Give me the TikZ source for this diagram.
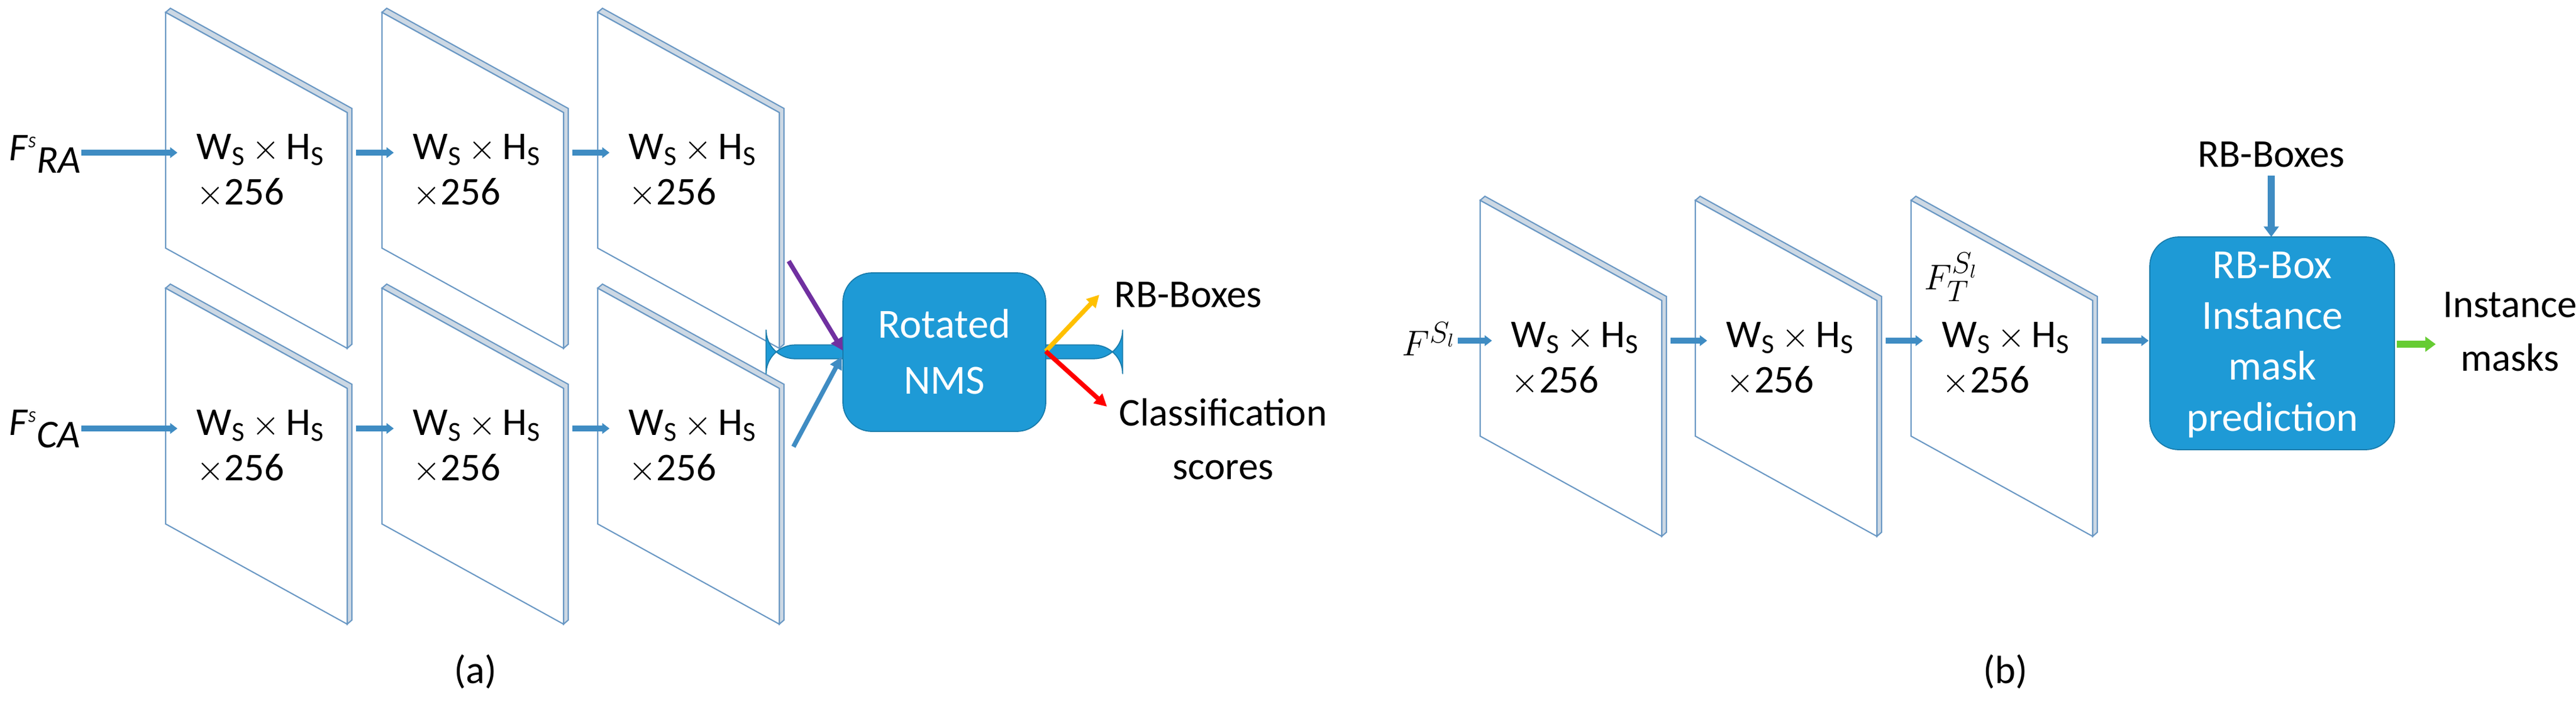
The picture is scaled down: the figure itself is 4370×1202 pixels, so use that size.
\documentclass[tikz,border=0pt]{standalone}
\usepackage{fontspec}
\setmainfont{Carlito}
\usetikzlibrary{arrows.meta}
\definecolor{arr}{HTML}{3F8CC3}
\definecolor{edge}{HTML}{6A98C4}
\definecolor{side}{HTML}{CCD8E4}
\definecolor{boxc}{HTML}{1E9AD6}
\definecolor{purp}{HTML}{7030A0}
\definecolor{yel}{HTML}{FFC000}
\definecolor{grn}{HTML}{66CC33}
\newcommand{\WH}{W\textsubscript{S}\,$\times$\,H\textsubscript{S}\\[-2pt]$\times$256}
\newcommand{\myplate}[3]{%
  \fill[side,draw=edge,line width=0.6pt] (#2,#3)--(#2+8,#3-7)--(#2+316,#3+163)--(#2+316,#3+563)--(#2+308,#3+570)--(#2+308,#3+170)--cycle;
  \draw[edge,line width=0.6pt,fill=white] (#2,#3)--(#2+308,#3+170)--(#2+308,#3+570)--(#2,#3+400)--cycle;
  \coordinate (#1in) at (#2+20,#3+238);
  \coordinate (#1out) at (#2+323,#3+238);
  \node[lbl,anchor=north west] (#1t) at (#2+52,#3+206) {\WH};
}
\begin{document}
\begin{tikzpicture}[x=0.01cm,y=-0.01cm,
  lbl/.style={font=\fontsize{19}{24}\selectfont,align=left,inner sep=0pt},
  txt/.style={font=\fontsize{19}{24}\selectfont,align=center,inner sep=0pt},
  flow/.style={draw=arr,line width=2.8pt,-{Triangle[length=3.5pt,width=5pt]}},
  col/.style={line width=2.2pt,-{Triangle[length=6pt,width=6pt]}},
  bx/.style={fill=boxc,draw=boxc!80!black,line width=0.5pt,rounded corners=14pt,text=white,font=\fontsize{20}{25}\selectfont,align=center}]
\useasboundingbox (0,0) rectangle (4370,1202);
% panel (a)
\myplate{a1}{281}{21}
\myplate{a2}{648}{21}
\myplate{a3}{1014}{21}
\myplate{b1}{281}{489}
\myplate{b2}{648}{489}
\myplate{b3}{1014}{489}
\node[lbl,anchor=west] (fra) at (15,262) {\textit{F}$^{\textit{\footnotesize S}}$\raisebox{-6pt}{\textit{RA}}};
\node[lbl,anchor=west] (fca) at (15,728) {\textit{F}$^{\textit{\footnotesize S}}$\raisebox{-6pt}{\textit{CA}}};
\coordinate (fraE) at (138,259);
\coordinate (fcaE) at (138,727);
\draw[flow] (fraE) -- (a1in);
\draw[flow] (a1out) -- (a2in);
\draw[flow] (a2out) -- (a3in);
\draw[flow] (fcaE) -- (b1in);
\draw[flow] (b1out) -- (b2in);
\draw[flow] (b2out) -- (b3in);
\node[bx,minimum width=344\pgflinewidth,text width=3cm] (nms) at (1602,597) {};
\path[bx] (1430,463) rectangle (1774,732);
\node[txt,text=white,font=\fontsize{20}{25}\selectfont] (nmst) at (1602,597) {Rotated\\[2pt]NMS};
\coordinate (pS) at (1338,443);
\coordinate (pE) at (1430,595);
\coordinate (bS) at (1346,758);
\coordinate (bE) at (1428,605);
\draw[col,purp] (pS) -- (pE);
\draw[col,arr] (bS) -- (bE);
\coordinate (oS) at (1774,596);
\node[txt,anchor=west] (rb) at (1890,500) {RB-Boxes};
\node[txt] (cls) at (2075,745) {Classification\\[2pt]scores};
\coordinate (yE) at (1865,500);
\coordinate (rE) at (1878,690);
\draw[col,yel] (oS) -- (yE);
\draw[col,red] (oS) -- (rE);
\node[txt] (la) at (807,1140) {(a)};
% panel (b)
\myplate{c1}{2511}{340}
\myplate{c2}{2876}{340}
\myplate{c3}{3242}{340}
\node[lbl,anchor=east] (fsl) at (2470,575) {$F^{S_l}$};
\coordinate (fslE) at (2473,578);
\draw[flow] (fslE) -- (c1in);
\draw[flow] (c1out) -- (c2in);
\draw[flow] (c2out) -- (c3in);
\node[lbl] (ft) at (3310,470) {$F_T^{S_l}$};
\path[bx] (3647,402) rectangle (4062,763);
\node[txt,text=white,font=\fontsize{20}{24.5}\selectfont] (inst) at (3855,585) {RB-Box\\Instance\\mask\\prediction};
\coordinate (boxW) at (3645,578);
\draw[flow] (c3out) -- (boxW);
\node[txt] (rb2) at (3853,262) {RB-Boxes};
\coordinate (rb2S) at (3853,298);
\coordinate (boxN) at (3853,402);
\draw[draw=arr,line width=3.2pt,-{Triangle[length=5pt,width=7pt]}] (rb2S) -- (boxN);
\coordinate (boxE) at (4066,584);
\coordinate (gE) at (4132,584);
\draw[draw=grn,line width=3.2pt,-{Triangle[length=5pt,width=7pt]}] (boxE) -- (gE);
\node[txt] (im) at (4258,563) {Instance\\[2pt]masks};
\node[txt] (lb) at (3402,1140) {(b)};
\end{tikzpicture}
\end{document}
